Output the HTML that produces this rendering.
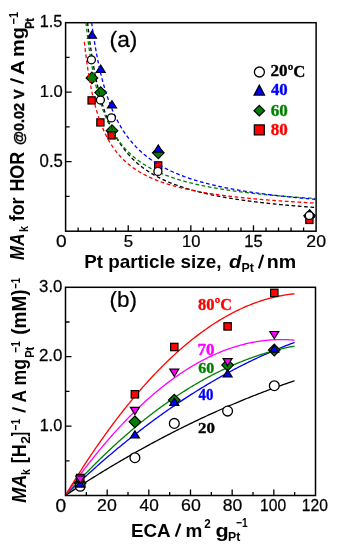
<!DOCTYPE html><html><head><meta charset="utf-8"><style>html,body{margin:0;padding:0;background:#fff;width:350px;height:547px;overflow:hidden}svg{display:block;will-change:transform}</style></head><body><svg width="350" height="547" viewBox="0 0 350 547">
<rect width="350" height="547" fill="#fff"/>
<g fill="none" stroke-width="1.3">
<polyline stroke="#000000" points="65.40,495.40 66.55,494.64 67.70,493.88 68.85,493.12 70.01,492.36 71.16,491.61 72.31,490.85 73.46,490.10 74.61,489.35 75.76,488.60 76.92,487.86 78.07,487.11 79.22,486.37 80.37,485.63 81.52,484.89 82.67,484.16 83.83,483.42 84.98,482.69 86.13,481.96 87.28,481.23 88.43,480.51 89.58,479.78 90.74,479.06 91.89,478.34 93.04,477.62 94.19,476.90 95.34,476.18 96.49,475.47 97.64,474.76 98.80,474.05 99.95,473.34 101.10,472.63 102.25,471.93 103.40,471.23 104.55,470.53 105.71,469.83 106.86,469.13 108.01,468.44 109.16,467.74 110.31,467.05 111.46,466.36 112.62,465.68 113.77,464.99 114.92,464.31 116.07,463.63 117.22,462.95 118.37,462.27 119.52,461.59 120.68,460.92 121.83,460.25 122.98,459.58 124.13,458.91 125.28,458.24 126.43,457.58 127.59,456.91 128.74,456.25 129.89,455.59 131.04,454.94 132.19,454.28 133.34,453.63 134.50,452.98 135.65,452.33 136.80,451.68 137.95,451.03 139.10,450.39 140.25,449.75 141.41,449.11 142.56,448.47 143.71,447.83 144.86,447.20 146.01,446.57 147.16,445.94 148.31,445.31 149.47,444.68 150.62,444.05 151.77,443.43 152.92,442.81 154.07,442.19 155.22,441.57 156.38,440.96 157.53,440.34 158.68,439.73 159.83,439.12 160.98,438.51 162.13,437.91 163.29,437.30 164.44,436.70 165.59,436.10 166.74,435.50 167.89,434.90 169.04,434.31 170.19,433.72 171.35,433.13 172.50,432.54 173.65,431.95 174.80,431.36 175.95,430.78 177.10,430.20 178.26,429.62 179.41,429.04 180.56,428.46 181.71,427.89 182.86,427.32 184.01,426.75 185.17,426.18 186.32,425.61 187.47,425.05 188.62,424.48 189.77,423.92 190.92,423.36 192.08,422.81 193.23,422.25 194.38,421.70 195.53,421.15 196.68,420.60 197.83,420.05 198.98,419.50 200.14,418.96 201.29,418.42 202.44,417.88 203.59,417.34 204.74,416.80 205.89,416.27 207.05,415.73 208.20,415.20 209.35,414.67 210.50,414.15 211.65,413.62 212.80,413.10 213.96,412.58 215.11,412.06 216.26,411.54 217.41,411.02 218.56,410.51 219.71,410.00 220.86,409.49 222.02,408.98 223.17,408.47 224.32,407.97 225.47,407.46 226.62,406.96 227.77,406.47 228.93,405.97 230.08,405.47 231.23,404.98 232.38,404.49 233.53,404.00 234.68,403.51 235.84,403.03 236.99,402.54 238.14,402.06 239.29,401.58 240.44,401.10 241.59,400.63 242.75,400.15 243.90,399.68 245.05,399.21 246.20,398.74 247.35,398.27 248.50,397.81 249.65,397.34 250.81,396.88 251.96,396.42 253.11,395.97 254.26,395.51 255.41,395.06 256.56,394.61 257.72,394.16 258.87,393.71 260.02,393.26 261.17,392.82 262.32,392.37 263.47,391.93 264.63,391.50 265.78,391.06 266.93,390.62 268.08,390.19 269.23,389.76 270.38,389.33 271.53,388.90 272.69,388.48 273.84,388.06 274.99,387.63 276.14,387.21 277.29,386.80 278.44,386.38 279.60,385.97 280.75,385.55 281.90,385.14 283.05,384.73 284.20,384.33 285.35,383.92 286.51,383.52 287.66,383.12 288.81,382.72 289.96,382.32 291.11,381.93 292.26,381.53 293.42,381.14 294.57,380.75"/>
<polyline stroke="#0000ff" points="65.40,495.40 66.55,494.29 67.70,493.18 68.85,492.08 70.01,490.98 71.16,489.88 72.31,488.79 73.46,487.70 74.61,486.61 75.76,485.53 76.92,484.45 78.07,483.37 79.22,482.30 80.37,481.23 81.52,480.16 82.67,479.10 83.83,478.04 84.98,476.98 86.13,475.93 87.28,474.88 88.43,473.84 89.58,472.80 90.74,471.76 91.89,470.72 93.04,469.69 94.19,468.66 95.34,467.64 96.49,466.62 97.64,465.60 98.80,464.59 99.95,463.57 101.10,462.57 102.25,461.56 103.40,460.56 104.55,459.57 105.71,458.57 106.86,457.58 108.01,456.60 109.16,455.61 110.31,454.63 111.46,453.66 112.62,452.69 113.77,451.72 114.92,450.75 116.07,449.79 117.22,448.83 118.37,447.87 119.52,446.92 120.68,445.97 121.83,445.03 122.98,444.09 124.13,443.15 125.28,442.21 126.43,441.28 127.59,440.35 128.74,439.43 129.89,438.51 131.04,437.59 132.19,436.68 133.34,435.77 134.50,434.86 135.65,433.96 136.80,433.06 137.95,432.16 139.10,431.27 140.25,430.38 141.41,429.49 142.56,428.61 143.71,427.73 144.86,426.85 146.01,425.98 147.16,425.11 148.31,424.25 149.47,423.38 150.62,422.52 151.77,421.67 152.92,420.82 154.07,419.97 155.22,419.12 156.38,418.28 157.53,417.45 158.68,416.61 159.83,415.78 160.98,414.95 162.13,414.13 163.29,413.31 164.44,412.49 165.59,411.68 166.74,410.87 167.89,410.06 169.04,409.26 170.19,408.46 171.35,407.66 172.50,406.87 173.65,406.08 174.80,405.29 175.95,404.51 177.10,403.73 178.26,402.95 179.41,402.18 180.56,401.41 181.71,400.65 182.86,399.89 184.01,399.13 185.17,398.37 186.32,397.62 187.47,396.87 188.62,396.13 189.77,395.39 190.92,394.65 192.08,393.92 193.23,393.18 194.38,392.46 195.53,391.73 196.68,391.01 197.83,390.30 198.98,389.58 200.14,388.87 201.29,388.17 202.44,387.46 203.59,386.76 204.74,386.07 205.89,385.37 207.05,384.68 208.20,384.00 209.35,383.32 210.50,382.64 211.65,381.96 212.80,381.29 213.96,380.62 215.11,379.96 216.26,379.29 217.41,378.64 218.56,377.98 219.71,377.33 220.86,376.68 222.02,376.04 223.17,375.40 224.32,374.76 225.47,374.13 226.62,373.50 227.77,372.87 228.93,372.24 230.08,371.62 231.23,371.01 232.38,370.39 233.53,369.78 234.68,369.18 235.84,368.58 236.99,367.98 238.14,367.38 239.29,366.79 240.44,366.20 241.59,365.61 242.75,365.03 243.90,364.45 245.05,363.88 246.20,363.30 247.35,362.74 248.50,362.17 249.65,361.61 250.81,361.05 251.96,360.50 253.11,359.95 254.26,359.40 255.41,358.85 256.56,358.31 257.72,357.78 258.87,357.24 260.02,356.71 261.17,356.19 262.32,355.66 263.47,355.14 264.63,354.63 265.78,354.11 266.93,353.60 268.08,353.10 269.23,352.59 270.38,352.10 271.53,351.60 272.69,351.11 273.84,350.62 274.99,350.13 276.14,349.65 277.29,349.17 278.44,348.70 279.60,348.23 280.75,347.76 281.90,347.29 283.05,346.83 284.20,346.37 285.35,345.92 286.51,345.47 287.66,345.02 288.81,344.58 289.96,344.14 291.11,343.70 292.26,343.27 293.42,342.84 294.57,342.41"/>
<polyline stroke="#008000" points="65.40,495.40 66.55,494.11 67.70,492.83 68.85,491.56 70.01,490.29 71.16,489.02 72.31,487.76 73.46,486.51 74.61,485.26 75.76,484.02 76.92,482.78 78.07,481.54 79.22,480.32 80.37,479.10 81.52,477.88 82.67,476.67 83.83,475.46 84.98,474.26 86.13,473.07 87.28,471.88 88.43,470.70 89.58,469.52 90.74,468.35 91.89,467.18 93.04,466.02 94.19,464.86 95.34,463.71 96.49,462.56 97.64,461.42 98.80,460.29 99.95,459.16 101.10,458.03 102.25,456.91 103.40,455.80 104.55,454.69 105.71,453.59 106.86,452.49 108.01,451.40 109.16,450.32 110.31,449.24 111.46,448.16 112.62,447.09 113.77,446.03 114.92,444.97 116.07,443.91 117.22,442.86 118.37,441.82 119.52,440.78 120.68,439.75 121.83,438.73 122.98,437.70 124.13,436.69 125.28,435.68 126.43,434.67 127.59,433.67 128.74,432.68 129.89,431.69 131.04,430.71 132.19,429.73 133.34,428.76 134.50,427.79 135.65,426.83 136.80,425.87 137.95,424.92 139.10,423.98 140.25,423.04 141.41,422.10 142.56,421.17 143.71,420.25 144.86,419.33 146.01,418.42 147.16,417.51 148.31,416.61 149.47,415.71 150.62,414.82 151.77,413.94 152.92,413.06 154.07,412.18 155.22,411.31 156.38,410.45 157.53,409.59 158.68,408.73 159.83,407.89 160.98,407.04 162.13,406.21 163.29,405.38 164.44,404.55 165.59,403.73 166.74,402.91 167.89,402.10 169.04,401.30 170.19,400.50 171.35,399.71 172.50,398.92 173.65,398.14 174.80,397.36 175.95,396.59 177.10,395.82 178.26,395.06 179.41,394.30 180.56,393.55 181.71,392.81 182.86,392.07 184.01,391.33 185.17,390.61 186.32,389.88 187.47,389.16 188.62,388.45 189.77,387.75 190.92,387.04 192.08,386.35 193.23,385.66 194.38,384.97 195.53,384.29 196.68,383.62 197.83,382.95 198.98,382.28 200.14,381.63 201.29,380.97 202.44,380.33 203.59,379.68 204.74,379.05 205.89,378.42 207.05,377.79 208.20,377.17 209.35,376.56 210.50,375.95 211.65,375.34 212.80,374.74 213.96,374.15 215.11,373.56 216.26,372.98 217.41,372.40 218.56,371.83 219.71,371.27 220.86,370.71 222.02,370.15 223.17,369.60 224.32,369.06 225.47,368.52 226.62,367.98 227.77,367.45 228.93,366.93 230.08,366.41 231.23,365.90 232.38,365.40 233.53,364.90 234.68,364.40 235.84,363.91 236.99,363.42 238.14,362.95 239.29,362.47 240.44,362.00 241.59,361.54 242.75,361.08 243.90,360.63 245.05,360.18 246.20,359.74 247.35,359.30 248.50,358.87 249.65,358.45 250.81,358.03 251.96,357.61 253.11,357.21 254.26,356.80 255.41,356.40 256.56,356.01 257.72,355.62 258.87,355.24 260.02,354.87 261.17,354.49 262.32,354.13 263.47,353.77 264.63,353.41 265.78,353.06 266.93,352.72 268.08,352.38 269.23,352.05 270.38,351.72 271.53,351.40 272.69,351.08 273.84,350.77 274.99,350.46 276.14,350.16 277.29,349.87 278.44,349.58 279.60,349.29 280.75,349.01 281.90,348.74 283.05,348.47 284.20,348.21 285.35,347.95 286.51,347.70 287.66,347.45 288.81,347.21 289.96,346.98 291.11,346.75 292.26,346.52 293.42,346.30 294.57,346.09"/>
<polyline stroke="#ff00ff" points="65.40,495.40 66.55,493.74 67.70,492.09 68.85,490.46 70.01,488.83 71.16,487.20 72.31,485.59 73.46,483.99 74.61,482.39 75.76,480.81 76.92,479.23 78.07,477.66 79.22,476.10 80.37,474.55 81.52,473.01 82.67,471.48 83.83,469.95 84.98,468.44 86.13,466.93 87.28,465.43 88.43,463.94 89.58,462.46 90.74,460.99 91.89,459.53 93.04,458.08 94.19,456.63 95.34,455.20 96.49,453.77 97.64,452.35 98.80,450.94 99.95,449.54 101.10,448.15 102.25,446.77 103.40,445.40 104.55,444.03 105.71,442.68 106.86,441.33 108.01,439.99 109.16,438.66 110.31,437.34 111.46,436.03 112.62,434.73 113.77,433.43 114.92,432.15 116.07,430.87 117.22,429.61 118.37,428.35 119.52,427.10 120.68,425.86 121.83,424.63 122.98,423.40 124.13,422.19 125.28,420.98 126.43,419.79 127.59,418.60 128.74,417.42 129.89,416.25 131.04,415.09 132.19,413.94 133.34,412.79 134.50,411.66 135.65,410.53 136.80,409.42 137.95,408.31 139.10,407.21 140.25,406.12 141.41,405.04 142.56,403.97 143.71,402.90 144.86,401.85 146.01,400.80 147.16,399.77 148.31,398.74 149.47,397.72 150.62,396.71 151.77,395.71 152.92,394.72 154.07,393.73 155.22,392.76 156.38,391.79 157.53,390.83 158.68,389.88 159.83,388.95 160.98,388.01 162.13,387.09 163.29,386.18 164.44,385.28 165.59,384.38 166.74,383.49 167.89,382.62 169.04,381.75 170.19,380.89 171.35,380.04 172.50,379.20 173.65,378.36 174.80,377.54 175.95,376.72 177.10,375.92 178.26,375.12 179.41,374.33 180.56,373.55 181.71,372.78 182.86,372.02 184.01,371.26 185.17,370.52 186.32,369.78 187.47,369.06 188.62,368.34 189.77,367.63 190.92,366.93 192.08,366.24 193.23,365.55 194.38,364.88 195.53,364.21 196.68,363.56 197.83,362.91 198.98,362.27 200.14,361.64 201.29,361.02 202.44,360.41 203.59,359.81 204.74,359.21 205.89,358.63 207.05,358.05 208.20,357.49 209.35,356.93 210.50,356.38 211.65,355.84 212.80,355.30 213.96,354.78 215.11,354.27 216.26,353.76 217.41,353.26 218.56,352.78 219.71,352.30 220.86,351.83 222.02,351.37 223.17,350.91 224.32,350.47 225.47,350.04 226.62,349.61 227.77,349.19 228.93,348.79 230.08,348.39 231.23,348.00 232.38,347.62 233.53,347.24 234.68,346.88 235.84,346.52 236.99,346.18 238.14,345.84 239.29,345.51 240.44,345.19 241.59,344.88 242.75,344.58 243.90,344.29 245.05,344.00 246.20,343.73 247.35,343.46 248.50,343.20 249.65,342.96 250.81,342.72 251.96,342.49 253.11,342.26 254.26,342.05 255.41,341.85 256.56,341.65 257.72,341.46 258.87,341.29 260.02,341.12 261.17,340.96 262.32,340.81 263.47,340.66 264.63,340.53 265.78,340.41 266.93,340.29 268.08,340.18 269.23,340.09 270.38,340.00 271.53,339.92 272.69,339.84 273.84,339.78 274.99,339.73 276.14,339.68 277.29,339.65 278.44,339.62 279.60,339.60 280.75,339.59 281.90,339.59 283.05,339.60 284.20,339.62 285.35,339.64 286.51,339.68 287.66,339.72 288.81,339.78 289.96,339.84 291.11,339.91 292.26,339.99 293.42,340.07 294.57,340.17"/>
<polyline stroke="#ff0000" points="65.40,495.40 66.55,493.49 67.70,491.59 68.85,489.70 70.01,487.81 71.16,485.94 72.31,484.07 73.46,482.22 74.61,480.37 75.76,478.53 76.92,476.70 78.07,474.88 79.22,473.07 80.37,471.27 81.52,469.48 82.67,467.70 83.83,465.92 84.98,464.16 86.13,462.40 87.28,460.65 88.43,458.91 89.58,457.18 90.74,455.46 91.89,453.75 93.04,452.05 94.19,450.36 95.34,448.67 96.49,447.00 97.64,445.33 98.80,443.68 99.95,442.03 101.10,440.39 102.25,438.76 103.40,437.14 104.55,435.53 105.71,433.93 106.86,432.34 108.01,430.75 109.16,429.18 110.31,427.61 111.46,426.05 112.62,424.51 113.77,422.97 114.92,421.44 116.07,419.92 117.22,418.40 118.37,416.90 119.52,415.41 120.68,413.92 121.83,412.45 122.98,410.98 124.13,409.52 125.28,408.08 126.43,406.64 127.59,405.21 128.74,403.79 129.89,402.37 131.04,400.97 132.19,399.58 133.34,398.19 134.50,396.82 135.65,395.45 136.80,394.09 137.95,392.74 139.10,391.41 140.25,390.07 141.41,388.75 142.56,387.44 143.71,386.14 144.86,384.84 146.01,383.56 147.16,382.28 148.31,381.02 149.47,379.76 150.62,378.51 151.77,377.27 152.92,376.04 154.07,374.82 155.22,373.60 156.38,372.40 157.53,371.21 158.68,370.02 159.83,368.85 160.98,367.68 162.13,366.52 163.29,365.37 164.44,364.23 165.59,363.10 166.74,361.98 167.89,360.87 169.04,359.76 170.19,358.67 171.35,357.58 172.50,356.50 173.65,355.44 174.80,354.38 175.95,353.33 177.10,352.29 178.26,351.26 179.41,350.24 180.56,349.22 181.71,348.22 182.86,347.22 184.01,346.24 185.17,345.26 186.32,344.29 187.47,343.33 188.62,342.38 189.77,341.44 190.92,340.51 192.08,339.59 193.23,338.68 194.38,337.77 195.53,336.88 196.68,335.99 197.83,335.11 198.98,334.24 200.14,333.39 201.29,332.54 202.44,331.69 203.59,330.86 204.74,330.04 205.89,329.23 207.05,328.42 208.20,327.63 209.35,326.84 210.50,326.06 211.65,325.29 212.80,324.53 213.96,323.78 215.11,323.04 216.26,322.31 217.41,321.59 218.56,320.87 219.71,320.17 220.86,319.47 222.02,318.78 223.17,318.11 224.32,317.44 225.47,316.78 226.62,316.13 227.77,315.49 228.93,314.85 230.08,314.23 231.23,313.62 232.38,313.01 233.53,312.41 234.68,311.83 235.84,311.25 236.99,310.68 238.14,310.12 239.29,309.57 240.44,309.03 241.59,308.49 242.75,307.97 243.90,307.46 245.05,306.95 246.20,306.45 247.35,305.97 248.50,305.49 249.65,305.02 250.81,304.56 251.96,304.11 253.11,303.67 254.26,303.23 255.41,302.81 256.56,302.39 257.72,301.99 258.87,301.59 260.02,301.20 261.17,300.82 262.32,300.45 263.47,300.09 264.63,299.74 265.78,299.40 266.93,299.07 268.08,298.74 269.23,298.43 270.38,298.12 271.53,297.82 272.69,297.54 273.84,297.26 274.99,296.99 276.14,296.73 277.29,296.47 278.44,296.23 279.60,296.00 280.75,295.77 281.90,295.56 283.05,295.35 284.20,295.15 285.35,294.96 286.51,294.78 287.66,294.61 288.81,294.45 289.96,294.30 291.11,294.16 292.26,294.02 293.42,293.90 294.57,293.78"/>
</g>
<g fill="none" stroke="#000" stroke-width="1.5">
<rect x="65.6" y="22.7" width="250.50" height="208.50"/>
<rect x="65.5" y="287.3" width="250.00" height="208.20"/>
<path d="M78.12 231.2 v-3.6 M90.65 231.2 v-3.6 M103.17 231.2 v-3.6 M115.70 231.2 v-3.6 M128.22 231.2 v-6 M140.75 231.2 v-3.6 M153.28 231.2 v-3.6 M165.80 231.2 v-3.6 M178.32 231.2 v-3.6 M190.85 231.2 v-6 M203.38 231.2 v-3.6 M215.90 231.2 v-3.6 M228.43 231.2 v-3.6 M240.95 231.2 v-3.6 M253.48 231.2 v-6 M266.00 231.2 v-3.6 M278.52 231.2 v-3.6 M291.05 231.2 v-3.6 M303.58 231.2 v-3.6 M65.6 196.45 h4 M65.6 161.70 h6 M65.6 126.95 h4 M65.6 92.20 h6 M65.6 57.45 h4 M86.33 495.5 v-3.6 M107.17 495.5 v-6 M128.00 495.5 v-3.6 M148.83 495.5 v-6 M169.67 495.5 v-3.6 M190.50 495.5 v-6 M211.33 495.5 v-3.6 M232.17 495.5 v-6 M253.00 495.5 v-3.6 M273.83 495.5 v-6 M294.67 495.5 v-3.6 M65.5 460.80 h4 M65.5 426.10 h6 M65.5 391.40 h4 M65.5 356.70 h6 M65.5 322.00 h4" stroke-width="1.3"/>
</g>
<path d="M91.9 72.10000000000001 L97.7 77.9 L91.9 83.7 L86.10000000000001 77.9Z" fill="#008000" stroke="#000" stroke-width="1.2"/>
<path d="M100.7 86.8 L106.5 92.6 L100.7 98.39999999999999 L94.9 92.6Z" fill="#008000" stroke="#000" stroke-width="1.2"/>
<path d="M112.0 124.89999999999999 L117.8 130.7 L112.0 136.5 L106.2 130.7Z" fill="#008000" stroke="#000" stroke-width="1.2"/>
<path d="M158.3 147.0 L164.10000000000002 152.8 L158.3 158.60000000000002 L152.5 152.8Z" fill="#008000" stroke="#000" stroke-width="1.2"/>
<path d="M309.6 210.0 L315.40000000000003 215.8 L309.6 221.60000000000002 L303.8 215.8Z" fill="#008000" stroke="#000" stroke-width="1.2"/>
<path d="M92 31.0 L96.5 38.2 L87.5 38.2Z" fill="#0000ff" stroke="#000" stroke-width="1.2"/>
<path d="M100.7 65.10000000000001 L105.2 72.3 L96.2 72.3Z" fill="#0000ff" stroke="#000" stroke-width="1.2"/>
<path d="M112 100.7 L116.5 107.89999999999999 L107.5 107.89999999999999Z" fill="#0000ff" stroke="#000" stroke-width="1.2"/>
<path d="M158.3 145.0 L162.8 152.2 L153.8 152.2Z" fill="#0000ff" stroke="#000" stroke-width="1.2"/>
<path d="M309.6 209.9 L314.1 217.1 L305.1 217.1Z" fill="#0000ff" stroke="#000" stroke-width="1.2"/>
<rect x="88.0" y="96.80000000000001" width="7.2" height="7.2" fill="#ff0000" stroke="#000" stroke-width="1.2"/>
<rect x="96.80000000000001" y="118.80000000000001" width="7.2" height="7.2" fill="#ff0000" stroke="#000" stroke-width="1.2"/>
<rect x="108.0" y="131.8" width="7.2" height="7.2" fill="#ff0000" stroke="#000" stroke-width="1.2"/>
<rect x="154.6" y="161.8" width="7.2" height="7.2" fill="#ff0000" stroke="#000" stroke-width="1.2"/>
<rect x="305.79999999999995" y="216.3" width="7.2" height="7.2" fill="#ff0000" stroke="#000" stroke-width="1.2"/>
<clipPath id="ca"><rect x="65.6" y="22.5" width="250.00000000000003" height="208.3"/></clipPath>
<g clip-path="url(#ca)" fill="none" stroke-width="1.3" stroke-dasharray="3.7 2.6">
<polyline stroke="#000000" points="87.57,22.50 88.14,27.64 88.71,32.53 89.28,37.18 89.86,41.61 90.43,45.84 91.00,49.88 91.57,53.74 92.14,57.44 92.71,60.97 93.29,64.37 93.86,67.62 94.43,70.75 95.00,73.75 95.57,76.64 96.14,79.42 96.71,82.10 97.29,84.69 97.86,87.18 98.43,89.58 99.00,91.91 99.57,94.15 100.14,96.32 100.71,98.42 101.29,100.45 101.86,102.42 102.43,104.33 103.00,106.18 103.57,107.97 104.14,109.71 104.72,111.40 105.29,113.04 105.86,114.63 106.43,116.18 107.00,117.69 107.57,119.15 108.14,120.58 108.72,121.97 109.29,123.32 109.86,124.64 110.43,125.92 111.00,127.17 111.57,128.39 112.14,129.58 112.72,130.74 113.29,131.88 113.86,132.98 114.43,134.06 115.00,135.12 115.57,136.15 116.15,137.16 116.72,138.14 117.29,139.11 117.86,140.05 118.43,140.97 119.00,141.88 119.57,142.76 120.15,143.62 120.72,144.47 121.29,145.30 121.86,146.11 122.43,146.91 123.00,147.69 123.57,148.46 124.15,149.21 124.72,149.94 125.29,150.66 125.86,151.37 126.43,152.07 127.00,152.75 127.58,153.42 128.15,154.07 128.72,154.72 129.29,155.35 129.86,155.97 130.43,156.59 131.00,157.19 131.58,157.78 132.15,158.36 132.72,158.93 133.29,159.49 133.86,160.04 134.43,160.58 135.00,161.11 135.58,161.64 136.15,162.15 136.72,162.66 137.29,163.16 137.86,163.65 138.43,164.14 139.01,164.61 139.58,165.08 140.15,165.54 140.72,166.00 141.29,166.45 141.86,166.89 142.43,167.32 143.01,167.75 143.58,168.17 144.15,168.59 144.72,169.00 145.29,169.40 145.86,169.80 146.44,170.19 147.01,170.58 147.58,170.96 148.15,171.34 148.72,171.71 149.29,172.07 149.86,172.43 150.44,172.79 151.01,173.14 151.58,173.49 152.15,173.83 152.72,174.17 153.29,174.50 153.86,174.83 154.44,175.16 155.01,175.48 155.58,175.79 156.15,176.11 156.72,176.41 157.29,176.72 157.87,177.02 158.44,177.32 159.01,177.61 159.58,177.90 160.15,178.19 160.72,178.47 161.29,178.75 161.87,179.03 162.44,179.30 163.01,179.57 163.58,179.84 164.15,180.10 164.72,180.36 165.29,180.62 165.87,180.87 166.44,181.13 167.01,181.38 167.58,181.62 168.15,181.86 168.72,182.11 169.30,182.34 169.87,182.58 170.44,182.81 171.01,183.04 171.58,183.27 172.15,183.50 172.72,183.72 173.30,183.94 173.87,184.16 174.44,184.37 175.01,184.59 175.58,184.80 176.15,185.01 176.72,185.22 177.30,185.42 177.87,185.62 178.44,185.83 179.01,186.02 179.58,186.22 180.15,186.42 180.73,186.61 181.30,186.80 181.87,186.99 182.44,187.18 183.01,187.36 183.58,187.55 184.15,187.73 184.73,187.91 185.30,188.09 185.87,188.27 186.44,188.44 187.01,188.61 187.58,188.79 188.15,188.96 188.73,189.13 189.30,189.29 189.87,189.46 190.44,189.62 191.01,189.78 191.58,189.95 192.16,190.11 192.73,190.26 193.30,190.42 193.87,190.58 194.44,190.73 195.01,190.88 195.58,191.03 196.16,191.18 196.73,191.33 197.30,191.48 197.87,191.63 198.44,191.77 199.01,191.92 199.58,192.06 200.16,192.20 200.73,192.34 201.30,192.48 201.87,192.62 202.44,192.75 203.01,192.89 203.59,193.02 204.16,193.16 204.73,193.29 205.30,193.42 205.87,193.55 206.44,193.68 207.01,193.81 207.59,193.93 208.16,194.06 208.73,194.18 209.30,194.31 209.87,194.43 210.44,194.55 211.01,194.67 211.59,194.79 212.16,194.91 212.73,195.03 213.30,195.15 213.87,195.26 214.44,195.38 215.02,195.49 215.59,195.61 216.16,195.72 216.73,195.83 217.30,195.94 217.87,196.05 218.44,196.16 219.02,196.27 219.59,196.38 220.16,196.49 220.73,196.59 221.30,196.70 221.87,196.80 222.44,196.91 223.02,197.01 223.59,197.11 224.16,197.21 224.73,197.31 225.30,197.41 225.87,197.51 226.45,197.61 227.02,197.71 227.59,197.81 228.16,197.90 228.73,198.00 229.30,198.10 229.87,198.19 230.45,198.28 231.02,198.38 231.59,198.47 232.16,198.56 232.73,198.65 233.30,198.74 233.88,198.83 234.45,198.92 235.02,199.01 235.59,199.10 236.16,199.19 236.73,199.28 237.30,199.36 237.88,199.45 238.45,199.54 239.02,199.62 239.59,199.70 240.16,199.79 240.73,199.87 241.30,199.95 241.88,200.04 242.45,200.12 243.02,200.20 243.59,200.28 244.16,200.36 244.73,200.44 245.31,200.52 245.88,200.60 246.45,200.68 247.02,200.75 247.59,200.83 248.16,200.91 248.73,200.98 249.31,201.06 249.88,201.13 250.45,201.21 251.02,201.28 251.59,201.36 252.16,201.43 252.73,201.50 253.31,201.58 253.88,201.65 254.45,201.72 255.02,201.79 255.59,201.86 256.16,201.93 256.74,202.00 257.31,202.07 257.88,202.14 258.45,202.21 259.02,202.28 259.59,202.35 260.16,202.41 260.74,202.48 261.31,202.55 261.88,202.61 262.45,202.68 263.02,202.74 263.59,202.81 264.16,202.87 264.74,202.94 265.31,203.00 265.88,203.07 266.45,203.13 267.02,203.19 267.59,203.26 268.17,203.32 268.74,203.38 269.31,203.44 269.88,203.50 270.45,203.56 271.02,203.62 271.59,203.68 272.17,203.74 272.74,203.80 273.31,203.86 273.88,203.92 274.45,203.98 275.02,204.04 275.59,204.10 276.17,204.15 276.74,204.21 277.31,204.27 277.88,204.32 278.45,204.38 279.02,204.44 279.60,204.49 280.17,204.55 280.74,204.60 281.31,204.66 281.88,204.71 282.45,204.77 283.02,204.82 283.60,204.87 284.17,204.93 284.74,204.98 285.31,205.03 285.88,205.09 286.45,205.14 287.02,205.19 287.60,205.24 288.17,205.29 288.74,205.35 289.31,205.40 289.88,205.45 290.45,205.50 291.03,205.55 291.60,205.60 292.17,205.65 292.74,205.70 293.31,205.75 293.88,205.80 294.45,205.84 295.03,205.89 295.60,205.94 296.17,205.99 296.74,206.04 297.31,206.08 297.88,206.13 298.45,206.18 299.03,206.23 299.60,206.27 300.17,206.32 300.74,206.36 301.31,206.41 301.88,206.46 302.46,206.50 303.03,206.55 303.60,206.59 304.17,206.64 304.74,206.68 305.31,206.73 305.88,206.77 306.46,206.81 307.03,206.86 307.60,206.90 308.17,206.95 308.74,206.99 309.31,207.03 309.88,207.07 310.46,207.12 311.03,207.16 311.60,207.20 312.17,207.24 312.74,207.29 313.31,207.33 313.89,207.37 314.46,207.41 315.03,207.45 315.60,207.49"/>
<polyline stroke="#ff0000" points="84.35,41.90 84.93,47.13 85.51,52.05 86.09,56.69 86.67,61.08 87.25,65.23 87.83,69.16 88.41,72.90 88.99,76.45 89.57,79.83 90.15,83.04 90.73,86.11 91.30,89.05 91.88,91.85 92.46,94.53 93.04,97.10 93.62,99.56 94.20,101.92 94.78,104.19 95.36,106.37 95.94,108.47 96.52,110.48 97.10,112.43 97.68,114.30 98.26,116.11 98.84,117.85 99.42,119.54 100.00,121.17 100.58,122.74 101.16,124.26 101.74,125.73 102.32,127.16 102.90,128.54 103.48,129.88 104.06,131.18 104.64,132.45 105.21,133.67 105.79,134.86 106.37,136.01 106.95,137.14 107.53,138.23 108.11,139.29 108.69,140.33 109.27,141.33 109.85,142.31 110.43,143.27 111.01,144.20 111.59,145.10 112.17,145.99 112.75,146.85 113.33,147.69 113.91,148.51 114.49,149.31 115.07,150.10 115.65,150.86 116.23,151.61 116.81,152.34 117.39,153.05 117.97,153.75 118.54,154.43 119.12,155.10 119.70,155.75 120.28,156.39 120.86,157.02 121.44,157.63 122.02,158.24 122.60,158.82 123.18,159.40 123.76,159.97 124.34,160.52 124.92,161.06 125.50,161.60 126.08,162.12 126.66,162.63 127.24,163.14 127.82,163.63 128.40,164.11 128.98,164.59 129.56,165.06 130.14,165.52 130.72,165.97 131.30,166.41 131.88,166.84 132.45,167.27 133.03,167.69 133.61,168.10 134.19,168.51 134.77,168.91 135.35,169.30 135.93,169.69 136.51,170.07 137.09,170.44 137.67,170.81 138.25,171.17 138.83,171.52 139.41,171.88 139.99,172.22 140.57,172.56 141.15,172.89 141.73,173.22 142.31,173.55 142.89,173.87 143.47,174.18 144.05,174.49 144.63,174.80 145.21,175.10 145.78,175.39 146.36,175.69 146.94,175.97 147.52,176.26 148.10,176.54 148.68,176.82 149.26,177.09 149.84,177.36 150.42,177.62 151.00,177.88 151.58,178.14 152.16,178.40 152.74,178.65 153.32,178.89 153.90,179.14 154.48,179.38 155.06,179.62 155.64,179.85 156.22,180.08 156.80,180.31 157.38,180.54 157.96,180.76 158.54,180.98 159.12,181.20 159.69,181.42 160.27,181.63 160.85,181.84 161.43,182.05 162.01,182.25 162.59,182.45 163.17,182.65 163.75,182.85 164.33,183.05 164.91,183.24 165.49,183.43 166.07,183.62 166.65,183.81 167.23,183.99 167.81,184.17 168.39,184.35 168.97,184.53 169.55,184.71 170.13,184.88 170.71,185.05 171.29,185.22 171.87,185.39 172.45,185.56 173.02,185.73 173.60,185.89 174.18,186.05 174.76,186.21 175.34,186.37 175.92,186.52 176.50,186.68 177.08,186.83 177.66,186.98 178.24,187.13 178.82,187.28 179.40,187.43 179.98,187.57 180.56,187.72 181.14,187.86 181.72,188.00 182.30,188.14 182.88,188.28 183.46,188.42 184.04,188.55 184.62,188.69 185.20,188.82 185.78,188.95 186.36,189.08 186.93,189.21 187.51,189.34 188.09,189.47 188.67,189.59 189.25,189.72 189.83,189.84 190.41,189.96 190.99,190.08 191.57,190.20 192.15,190.32 192.73,190.44 193.31,190.56 193.89,190.67 194.47,190.79 195.05,190.90 195.63,191.01 196.21,191.12 196.79,191.23 197.37,191.34 197.95,191.45 198.53,191.56 199.11,191.67 199.69,191.77 200.26,191.88 200.84,191.98 201.42,192.08 202.00,192.19 202.58,192.29 203.16,192.39 203.74,192.49 204.32,192.59 204.90,192.68 205.48,192.78 206.06,192.88 206.64,192.97 207.22,193.07 207.80,193.16 208.38,193.26 208.96,193.35 209.54,193.44 210.12,193.53 210.70,193.62 211.28,193.71 211.86,193.80 212.44,193.89 213.02,193.97 213.59,194.06 214.17,194.15 214.75,194.23 215.33,194.32 215.91,194.40 216.49,194.49 217.07,194.57 217.65,194.65 218.23,194.73 218.81,194.81 219.39,194.89 219.97,194.97 220.55,195.05 221.13,195.13 221.71,195.21 222.29,195.29 222.87,195.36 223.45,195.44 224.03,195.52 224.61,195.59 225.19,195.67 225.77,195.74 226.35,195.81 226.93,195.89 227.50,195.96 228.08,196.03 228.66,196.10 229.24,196.17 229.82,196.24 230.40,196.31 230.98,196.38 231.56,196.45 232.14,196.52 232.72,196.59 233.30,196.66 233.88,196.72 234.46,196.79 235.04,196.86 235.62,196.92 236.20,196.99 236.78,197.05 237.36,197.12 237.94,197.18 238.52,197.24 239.10,197.31 239.68,197.37 240.26,197.43 240.83,197.49 241.41,197.55 241.99,197.62 242.57,197.68 243.15,197.74 243.73,197.80 244.31,197.86 244.89,197.91 245.47,197.97 246.05,198.03 246.63,198.09 247.21,198.15 247.79,198.20 248.37,198.26 248.95,198.32 249.53,198.37 250.11,198.43 250.69,198.49 251.27,198.54 251.85,198.60 252.43,198.65 253.01,198.70 253.59,198.76 254.17,198.81 254.74,198.86 255.32,198.92 255.90,198.97 256.48,199.02 257.06,199.07 257.64,199.12 258.22,199.18 258.80,199.23 259.38,199.28 259.96,199.33 260.54,199.38 261.12,199.43 261.70,199.48 262.28,199.53 262.86,199.57 263.44,199.62 264.02,199.67 264.60,199.72 265.18,199.77 265.76,199.81 266.34,199.86 266.92,199.91 267.50,199.95 268.07,200.00 268.65,200.05 269.23,200.09 269.81,200.14 270.39,200.18 270.97,200.23 271.55,200.27 272.13,200.32 272.71,200.36 273.29,200.41 273.87,200.45 274.45,200.49 275.03,200.54 275.61,200.58 276.19,200.62 276.77,200.67 277.35,200.71 277.93,200.75 278.51,200.79 279.09,200.83 279.67,200.87 280.25,200.92 280.83,200.96 281.41,201.00 281.98,201.04 282.56,201.08 283.14,201.12 283.72,201.16 284.30,201.20 284.88,201.24 285.46,201.28 286.04,201.32 286.62,201.36 287.20,201.39 287.78,201.43 288.36,201.47 288.94,201.51 289.52,201.55 290.10,201.58 290.68,201.62 291.26,201.66 291.84,201.70 292.42,201.73 293.00,201.77 293.58,201.81 294.16,201.84 294.74,201.88 295.31,201.91 295.89,201.95 296.47,201.99 297.05,202.02 297.63,202.06 298.21,202.09 298.79,202.13 299.37,202.16 299.95,202.20 300.53,202.23 301.11,202.26 301.69,202.30 302.27,202.33 302.85,202.37 303.43,202.40 304.01,202.43 304.59,202.47 305.17,202.50 305.75,202.53 306.33,202.56 306.91,202.60 307.49,202.63 308.07,202.66 308.65,202.69 309.22,202.73 309.80,202.76 310.38,202.79 310.96,202.82 311.54,202.85 312.12,202.88 312.70,202.92 313.28,202.95 313.86,202.98 314.44,203.01 315.02,203.04 315.60,203.07"/>
<polyline stroke="#008000" points="85.95,22.50 86.52,27.77 87.10,32.76 87.67,37.49 88.25,41.98 88.82,46.25 89.40,50.31 89.97,54.17 90.55,57.86 91.13,61.39 91.70,64.76 92.28,67.98 92.85,71.06 93.43,74.02 94.00,76.86 94.58,79.59 95.15,82.21 95.73,84.73 96.31,87.15 96.88,89.49 97.46,91.74 98.03,93.91 98.61,96.01 99.18,98.03 99.76,99.99 100.34,101.88 100.91,103.71 101.49,105.48 102.06,107.20 102.64,108.86 103.21,110.47 103.79,112.03 104.36,113.55 104.94,115.02 105.52,116.45 106.09,117.84 106.67,119.19 107.24,120.50 107.82,121.77 108.39,123.02 108.97,124.23 109.54,125.40 110.12,126.55 110.70,127.67 111.27,128.76 111.85,129.82 112.42,130.86 113.00,131.87 113.57,132.85 114.15,133.82 114.72,134.76 115.30,135.68 115.88,136.58 116.45,137.45 117.03,138.31 117.60,139.15 118.18,139.97 118.75,140.77 119.33,141.56 119.90,142.33 120.48,143.08 121.06,143.82 121.63,144.54 122.21,145.25 122.78,145.94 123.36,146.62 123.93,147.29 124.51,147.94 125.08,148.58 125.66,149.21 126.24,149.83 126.81,150.43 127.39,151.02 127.96,151.61 128.54,152.18 129.11,152.74 129.69,153.29 130.26,153.83 130.84,154.36 131.42,154.89 131.99,155.40 132.57,155.90 133.14,156.40 133.72,156.89 134.29,157.37 134.87,157.84 135.45,158.30 136.02,158.76 136.60,159.21 137.17,159.65 137.75,160.08 138.32,160.51 138.90,160.93 139.47,161.35 140.05,161.76 140.63,162.16 141.20,162.55 141.78,162.94 142.35,163.33 142.93,163.70 143.50,164.08 144.08,164.44 144.65,164.81 145.23,165.16 145.81,165.51 146.38,165.86 146.96,166.20 147.53,166.54 148.11,166.87 148.68,167.20 149.26,167.52 149.83,167.84 150.41,168.15 150.99,168.46 151.56,168.77 152.14,169.07 152.71,169.37 153.29,169.66 153.86,169.95 154.44,170.24 155.01,170.52 155.59,170.80 156.17,171.07 156.74,171.35 157.32,171.61 157.89,171.88 158.47,172.14 159.04,172.40 159.62,172.66 160.19,172.91 160.77,173.16 161.35,173.40 161.92,173.65 162.50,173.89 163.07,174.12 163.65,174.36 164.22,174.59 164.80,174.82 165.37,175.05 165.95,175.27 166.53,175.49 167.10,175.71 167.68,175.93 168.25,176.14 168.83,176.35 169.40,176.56 169.98,176.77 170.56,176.98 171.13,177.18 171.71,177.38 172.28,177.58 172.86,177.77 173.43,177.97 174.01,178.16 174.58,178.35 175.16,178.54 175.74,178.72 176.31,178.91 176.89,179.09 177.46,179.27 178.04,179.45 178.61,179.62 179.19,179.80 179.76,179.97 180.34,180.14 180.92,180.31 181.49,180.48 182.07,180.65 182.64,180.81 183.22,180.98 183.79,181.14 184.37,181.30 184.94,181.45 185.52,181.61 186.10,181.77 186.67,181.92 187.25,182.07 187.82,182.22 188.40,182.37 188.97,182.52 189.55,182.67 190.12,182.81 190.70,182.96 191.28,183.10 191.85,183.24 192.43,183.38 193.00,183.52 193.58,183.66 194.15,183.79 194.73,183.93 195.30,184.06 195.88,184.20 196.46,184.33 197.03,184.46 197.61,184.59 198.18,184.72 198.76,184.84 199.33,184.97 199.91,185.09 200.49,185.22 201.06,185.34 201.64,185.46 202.21,185.58 202.79,185.70 203.36,185.82 203.94,185.94 204.51,186.06 205.09,186.17 205.67,186.29 206.24,186.40 206.82,186.51 207.39,186.63 207.97,186.74 208.54,186.85 209.12,186.96 209.69,187.07 210.27,187.17 210.85,187.28 211.42,187.39 212.00,187.49 212.57,187.60 213.15,187.70 213.72,187.80 214.30,187.90 214.87,188.00 215.45,188.10 216.03,188.20 216.60,188.30 217.18,188.40 217.75,188.50 218.33,188.60 218.90,188.69 219.48,188.79 220.05,188.88 220.63,188.97 221.21,189.07 221.78,189.16 222.36,189.25 222.93,189.34 223.51,189.43 224.08,189.52 224.66,189.61 225.23,189.70 225.81,189.79 226.39,189.87 226.96,189.96 227.54,190.05 228.11,190.13 228.69,190.22 229.26,190.30 229.84,190.38 230.41,190.47 230.99,190.55 231.57,190.63 232.14,190.71 232.72,190.79 233.29,190.87 233.87,190.95 234.44,191.03 235.02,191.11 235.60,191.19 236.17,191.27 236.75,191.34 237.32,191.42 237.90,191.49 238.47,191.57 239.05,191.64 239.62,191.72 240.20,191.79 240.78,191.87 241.35,191.94 241.93,192.01 242.50,192.08 243.08,192.15 243.65,192.23 244.23,192.30 244.80,192.37 245.38,192.44 245.96,192.51 246.53,192.57 247.11,192.64 247.68,192.71 248.26,192.78 248.83,192.84 249.41,192.91 249.98,192.98 250.56,193.04 251.14,193.11 251.71,193.17 252.29,193.24 252.86,193.30 253.44,193.37 254.01,193.43 254.59,193.49 255.16,193.56 255.74,193.62 256.32,193.68 256.89,193.74 257.47,193.80 258.04,193.86 258.62,193.92 259.19,193.98 259.77,194.04 260.34,194.10 260.92,194.16 261.50,194.22 262.07,194.28 262.65,194.34 263.22,194.39 263.80,194.45 264.37,194.51 264.95,194.57 265.52,194.62 266.10,194.68 266.68,194.73 267.25,194.79 267.83,194.84 268.40,194.90 268.98,194.95 269.55,195.01 270.13,195.06 270.71,195.11 271.28,195.17 271.86,195.22 272.43,195.27 273.01,195.32 273.58,195.38 274.16,195.43 274.73,195.48 275.31,195.53 275.89,195.58 276.46,195.63 277.04,195.68 277.61,195.73 278.19,195.78 278.76,195.83 279.34,195.88 279.91,195.93 280.49,195.98 281.07,196.03 281.64,196.08 282.22,196.12 282.79,196.17 283.37,196.22 283.94,196.27 284.52,196.31 285.09,196.36 285.67,196.41 286.25,196.45 286.82,196.50 287.40,196.54 287.97,196.59 288.55,196.64 289.12,196.68 289.70,196.72 290.27,196.77 290.85,196.81 291.43,196.86 292.00,196.90 292.58,196.95 293.15,196.99 293.73,197.03 294.30,197.08 294.88,197.12 295.45,197.16 296.03,197.20 296.61,197.25 297.18,197.29 297.76,197.33 298.33,197.37 298.91,197.41 299.48,197.45 300.06,197.49 300.64,197.53 301.21,197.57 301.79,197.62 302.36,197.66 302.94,197.70 303.51,197.74 304.09,197.77 304.66,197.81 305.24,197.85 305.82,197.89 306.39,197.93 306.97,197.97 307.54,198.01 308.12,198.05 308.69,198.08 309.27,198.12 309.84,198.16 310.42,198.20 311.00,198.23 311.57,198.27 312.15,198.31 312.72,198.35 313.30,198.38 313.87,198.42 314.45,198.46 315.02,198.49 315.60,198.53"/>
<polyline stroke="#0000ff" points="91.65,22.50 92.21,26.66 92.77,30.65 93.33,34.48 93.89,38.16 94.45,41.70 95.02,45.10 95.58,48.37 96.14,51.52 96.70,54.56 97.26,57.49 97.82,60.32 98.38,63.05 98.94,65.69 99.51,68.25 100.07,70.71 100.63,73.10 101.19,75.42 101.75,77.66 102.31,79.84 102.87,81.95 103.44,83.99 104.00,85.98 104.56,87.91 105.12,89.78 105.68,91.60 106.24,93.38 106.80,95.10 107.36,96.78 107.93,98.41 108.49,100.00 109.05,101.55 109.61,103.06 110.17,104.53 110.73,105.96 111.29,107.36 111.85,108.73 112.42,110.06 112.98,111.36 113.54,112.63 114.10,113.87 114.66,115.09 115.22,116.27 115.78,117.43 116.34,118.56 116.91,119.67 117.47,120.76 118.03,121.82 118.59,122.86 119.15,123.87 119.71,124.87 120.27,125.84 120.83,126.80 121.40,127.74 121.96,128.65 122.52,129.55 123.08,130.44 123.64,131.30 124.20,132.15 124.76,132.98 125.33,133.80 125.89,134.60 126.45,135.39 127.01,136.16 127.57,136.92 128.13,137.66 128.69,138.39 129.25,139.11 129.82,139.82 130.38,140.51 130.94,141.19 131.50,141.86 132.06,142.52 132.62,143.17 133.18,143.81 133.74,144.43 134.31,145.05 134.87,145.66 135.43,146.25 135.99,146.84 136.55,147.42 137.11,147.99 137.67,148.55 138.23,149.10 138.80,149.64 139.36,150.18 139.92,150.70 140.48,151.22 141.04,151.73 141.60,152.24 142.16,152.73 142.72,153.22 143.29,153.70 143.85,154.18 144.41,154.64 144.97,155.11 145.53,155.56 146.09,156.01 146.65,156.45 147.22,156.89 147.78,157.32 148.34,157.74 148.90,158.16 149.46,158.57 150.02,158.98 150.58,159.38 151.14,159.78 151.71,160.17 152.27,160.56 152.83,160.94 153.39,161.32 153.95,161.69 154.51,162.06 155.07,162.42 155.63,162.78 156.20,163.13 156.76,163.48 157.32,163.83 157.88,164.17 158.44,164.50 159.00,164.84 159.56,165.17 160.12,165.49 160.69,165.81 161.25,166.13 161.81,166.44 162.37,166.75 162.93,167.06 163.49,167.36 164.05,167.66 164.61,167.96 165.18,168.25 165.74,168.54 166.30,168.83 166.86,169.11 167.42,169.39 167.98,169.67 168.54,169.94 169.11,170.21 169.67,170.48 170.23,170.74 170.79,171.01 171.35,171.27 171.91,171.52 172.47,171.78 173.03,172.03 173.60,172.28 174.16,172.52 174.72,172.77 175.28,173.01 175.84,173.25 176.40,173.48 176.96,173.72 177.52,173.95 178.09,174.18 178.65,174.40 179.21,174.63 179.77,174.85 180.33,175.07 180.89,175.29 181.45,175.51 182.01,175.72 182.58,175.93 183.14,176.14 183.70,176.35 184.26,176.56 184.82,176.76 185.38,176.96 185.94,177.16 186.51,177.36 187.07,177.56 187.63,177.75 188.19,177.94 188.75,178.13 189.31,178.32 189.87,178.51 190.43,178.70 191.00,178.88 191.56,179.07 192.12,179.25 192.68,179.43 193.24,179.60 193.80,179.78 194.36,179.95 194.92,180.13 195.49,180.30 196.05,180.47 196.61,180.64 197.17,180.81 197.73,180.97 198.29,181.14 198.85,181.30 199.41,181.46 199.98,181.62 200.54,181.78 201.10,181.94 201.66,182.10 202.22,182.25 202.78,182.41 203.34,182.56 203.90,182.71 204.47,182.86 205.03,183.01 205.59,183.16 206.15,183.30 206.71,183.45 207.27,183.59 207.83,183.74 208.40,183.88 208.96,184.02 209.52,184.16 210.08,184.30 210.64,184.44 211.20,184.57 211.76,184.71 212.32,184.84 212.89,184.98 213.45,185.11 214.01,185.24 214.57,185.37 215.13,185.50 215.69,185.63 216.25,185.76 216.81,185.88 217.38,186.01 217.94,186.13 218.50,186.26 219.06,186.38 219.62,186.50 220.18,186.62 220.74,186.74 221.30,186.86 221.87,186.98 222.43,187.10 222.99,187.22 223.55,187.33 224.11,187.45 224.67,187.56 225.23,187.68 225.79,187.79 226.36,187.90 226.92,188.01 227.48,188.12 228.04,188.23 228.60,188.34 229.16,188.45 229.72,188.56 230.29,188.66 230.85,188.77 231.41,188.88 231.97,188.98 232.53,189.08 233.09,189.19 233.65,189.29 234.21,189.39 234.78,189.49 235.34,189.59 235.90,189.69 236.46,189.79 237.02,189.89 237.58,189.99 238.14,190.09 238.70,190.18 239.27,190.28 239.83,190.37 240.39,190.47 240.95,190.56 241.51,190.66 242.07,190.75 242.63,190.84 243.19,190.93 243.76,191.03 244.32,191.12 244.88,191.21 245.44,191.30 246.00,191.38 246.56,191.47 247.12,191.56 247.68,191.65 248.25,191.73 248.81,191.82 249.37,191.91 249.93,191.99 250.49,192.08 251.05,192.16 251.61,192.24 252.18,192.33 252.74,192.41 253.30,192.49 253.86,192.57 254.42,192.66 254.98,192.74 255.54,192.82 256.10,192.90 256.67,192.98 257.23,193.05 257.79,193.13 258.35,193.21 258.91,193.29 259.47,193.36 260.03,193.44 260.59,193.52 261.16,193.59 261.72,193.67 262.28,193.74 262.84,193.82 263.40,193.89 263.96,193.97 264.52,194.04 265.08,194.11 265.65,194.18 266.21,194.26 266.77,194.33 267.33,194.40 267.89,194.47 268.45,194.54 269.01,194.61 269.57,194.68 270.14,194.75 270.70,194.82 271.26,194.88 271.82,194.95 272.38,195.02 272.94,195.09 273.50,195.15 274.07,195.22 274.63,195.29 275.19,195.35 275.75,195.42 276.31,195.48 276.87,195.55 277.43,195.61 277.99,195.68 278.56,195.74 279.12,195.80 279.68,195.87 280.24,195.93 280.80,195.99 281.36,196.06 281.92,196.12 282.48,196.18 283.05,196.24 283.61,196.30 284.17,196.36 284.73,196.42 285.29,196.48 285.85,196.54 286.41,196.60 286.97,196.66 287.54,196.72 288.10,196.78 288.66,196.83 289.22,196.89 289.78,196.95 290.34,197.01 290.90,197.06 291.46,197.12 292.03,197.18 292.59,197.23 293.15,197.29 293.71,197.35 294.27,197.40 294.83,197.46 295.39,197.51 295.96,197.57 296.52,197.62 297.08,197.67 297.64,197.73 298.20,197.78 298.76,197.83 299.32,197.89 299.88,197.94 300.45,197.99 301.01,198.04 301.57,198.10 302.13,198.15 302.69,198.20 303.25,198.25 303.81,198.30 304.37,198.35 304.94,198.40 305.50,198.45 306.06,198.50 306.62,198.55 307.18,198.60 307.74,198.65 308.30,198.70 308.86,198.75 309.43,198.80 309.99,198.85 310.55,198.89 311.11,198.94 311.67,198.99 312.23,199.04 312.79,199.09 313.35,199.13 313.92,199.18 314.48,199.23 315.04,199.27 315.60,199.32"/>
</g>
<circle cx="91.4" cy="59.8" r="4.0" fill="#fff" stroke="#000" stroke-width="1.3"/>
<circle cx="100.4" cy="100" r="4.0" fill="#fff" stroke="#000" stroke-width="1.3"/>
<circle cx="111.4" cy="117.9" r="4.0" fill="#fff" stroke="#000" stroke-width="1.3"/>
<circle cx="157.9" cy="171.4" r="4.0" fill="#fff" stroke="#000" stroke-width="1.3"/>
<circle cx="309.3" cy="215.5" r="4.0" fill="#fff" stroke="#000" stroke-width="1.3"/>
<circle cx="259.4" cy="72" r="5.0" fill="#fff" stroke="#000" stroke-width="1.3"/>
<path d="M259.3 85.1 L264.55 95.1 L254.05 95.1Z" fill="#0000ff" stroke="#000" stroke-width="1.2"/>
<path d="M259.3 105.4 L264.6 110.7 L259.3 116.0 L254.0 110.7Z" fill="#008000" stroke="#000" stroke-width="1.2"/>
<rect x="254.3" y="124.9" width="10" height="10" fill="#ff0000" stroke="#000" stroke-width="1.2"/>
<path d="M80.2 477.2 L86.0 483 L80.2 488.8 L74.4 483Z" fill="#008000" stroke="#000" stroke-width="1.2"/>
<path d="M134.9 416.0 L140.70000000000002 421.8 L134.9 427.6 L129.1 421.8Z" fill="#008000" stroke="#000" stroke-width="1.2"/>
<path d="M174.3 394.3 L180.10000000000002 400.1 L174.3 405.90000000000003 L168.5 400.1Z" fill="#008000" stroke="#000" stroke-width="1.2"/>
<path d="M227.6 359.3 L233.4 365.1 L227.6 370.90000000000003 L221.79999999999998 365.1Z" fill="#008000" stroke="#000" stroke-width="1.2"/>
<path d="M274.3 344.2 L280.1 350 L274.3 355.8 L268.5 350Z" fill="#008000" stroke="#000" stroke-width="1.2"/>
<circle cx="80.2" cy="486.3" r="4.9" fill="#fff" stroke="#000" stroke-width="1.3"/>
<circle cx="134.9" cy="457.7" r="4.9" fill="#fff" stroke="#000" stroke-width="1.3"/>
<circle cx="174.3" cy="423.4" r="4.9" fill="#fff" stroke="#000" stroke-width="1.3"/>
<circle cx="227.6" cy="411.1" r="4.9" fill="#fff" stroke="#000" stroke-width="1.3"/>
<circle cx="274.3" cy="385.7" r="4.9" fill="#fff" stroke="#000" stroke-width="1.3"/>
<path d="M80.2 479.9 L84.7 487.1 L75.7 487.1Z" fill="#0000ff" stroke="#000" stroke-width="1.2"/>
<path d="M134.9 430.79999999999995 L139.4 438.0 L130.4 438.0Z" fill="#0000ff" stroke="#000" stroke-width="1.2"/>
<path d="M174.3 398.09999999999997 L178.8 405.3 L169.8 405.3Z" fill="#0000ff" stroke="#000" stroke-width="1.2"/>
<path d="M227.6 369.79999999999995 L232.1 377.0 L223.1 377.0Z" fill="#0000ff" stroke="#000" stroke-width="1.2"/>
<path d="M274.3 345.0 L278.8 352.20000000000005 L269.8 352.20000000000005Z" fill="#0000ff" stroke="#000" stroke-width="1.2"/>
<rect x="76.5" y="474.3" width="7.4" height="7.4" fill="#ff0000" stroke="#000" stroke-width="1.2"/>
<rect x="131.20000000000002" y="390.6" width="7.4" height="7.4" fill="#ff0000" stroke="#000" stroke-width="1.2"/>
<rect x="170.60000000000002" y="343.3" width="7.4" height="7.4" fill="#ff0000" stroke="#000" stroke-width="1.2"/>
<rect x="223.9" y="322.7" width="7.4" height="7.4" fill="#ff0000" stroke="#000" stroke-width="1.2"/>
<rect x="270.6" y="289.2" width="7.4" height="7.4" fill="#ff0000" stroke="#000" stroke-width="1.2"/>
<path d="M80.2 483.20000000000005 L84.7 476.0 L75.7 476.0Z" fill="#ff00ff" stroke="#000" stroke-width="1.2"/>
<path d="M134.9 414.6 L139.4 407.4 L130.4 407.4Z" fill="#ff00ff" stroke="#000" stroke-width="1.2"/>
<path d="M174.3 376.40000000000003 L178.8 369.2 L169.8 369.2Z" fill="#ff00ff" stroke="#000" stroke-width="1.2"/>
<path d="M227.6 365.8 L232.1 358.59999999999997 L223.1 358.59999999999997Z" fill="#ff00ff" stroke="#000" stroke-width="1.2"/>
<path d="M274.3 338.70000000000005 L278.8 331.5 L269.8 331.5Z" fill="#ff00ff" stroke="#000" stroke-width="1.2"/>
<text transform="translate(39.75,27.18) scale(0.9752,1)" font-family="'Liberation Sans', sans-serif" font-size="16.71" font-weight="normal" font-style="normal" fill="#000" stroke="#000" stroke-width="0.25">1.5</text>
<text transform="translate(39.71,96.79) scale(1.0130,1)" font-family="'Liberation Sans', sans-serif" font-size="16.48" font-weight="normal" font-style="normal" fill="#000" stroke="#000" stroke-width="0.25">1.0</text>
<text transform="translate(39.58,166.77) scale(0.9463,1)" font-family="'Liberation Sans', sans-serif" font-size="17.75" font-weight="normal" font-style="normal" fill="#000" stroke="#000" stroke-width="0.25">0.5</text>
<text transform="translate(55.98,246.78) scale(1.1154,1)" font-family="'Liberation Sans', sans-serif" font-size="17.18" font-weight="normal" font-style="normal" fill="#000" stroke="#000" stroke-width="0.25">0</text>
<text transform="translate(123.78,246.78) scale(1.0056,1)" font-family="'Liberation Sans', sans-serif" font-size="16.71" font-weight="normal" font-style="normal" fill="#000" stroke="#000" stroke-width="0.25">5</text>
<text transform="translate(181.92,246.79) scale(1.0053,1)" font-family="'Liberation Sans', sans-serif" font-size="16.48" font-weight="normal" font-style="normal" fill="#000" stroke="#000" stroke-width="0.25">10</text>
<text transform="translate(244.32,246.78) scale(0.9911,1)" font-family="'Liberation Sans', sans-serif" font-size="16.71" font-weight="normal" font-style="normal" fill="#000" stroke="#000" stroke-width="0.25">15</text>
<text transform="translate(306.36,246.79) scale(1.0768,1)" font-family="'Liberation Sans', sans-serif" font-size="16.48" font-weight="normal" font-style="normal" fill="#000" stroke="#000" stroke-width="0.25">20</text>
<text transform="translate(109.59,46.68) scale(1.0222,1)" font-family="'Liberation Sans', sans-serif" font-size="22.23" font-weight="normal" font-style="normal" fill="#000" stroke="#000" stroke-width="0.25">(a)</text>
<text transform="translate(39.08,292.38) scale(0.9773,1)" font-family="'Liberation Sans', sans-serif" font-size="17.18" font-weight="normal" font-style="normal" fill="#000" stroke="#000" stroke-width="0.25">3.0</text>
<text transform="translate(38.90,361.48) scale(0.9849,1)" font-family="'Liberation Sans', sans-serif" font-size="17.18" font-weight="normal" font-style="normal" fill="#000" stroke="#000" stroke-width="0.25">2.0</text>
<text transform="translate(39.75,430.59) scale(0.9891,1)" font-family="'Liberation Sans', sans-serif" font-size="16.48" font-weight="normal" font-style="normal" fill="#000" stroke="#000" stroke-width="0.25">1.0</text>
<text transform="translate(55.58,511.87) scale(1.0800,1)" font-family="'Liberation Sans', sans-serif" font-size="17.75" font-weight="normal" font-style="normal" fill="#000" stroke="#000" stroke-width="0.25">0</text>
<text transform="translate(97.06,511.48) scale(1.0327,1)" font-family="'Liberation Sans', sans-serif" font-size="17.18" font-weight="normal" font-style="normal" fill="#000" stroke="#000" stroke-width="0.25">20</text>
<text transform="translate(139.61,511.48) scale(1.0032,1)" font-family="'Liberation Sans', sans-serif" font-size="17.18" font-weight="normal" font-style="normal" fill="#000" stroke="#000" stroke-width="0.25">40</text>
<text transform="translate(181.06,511.48) scale(1.0327,1)" font-family="'Liberation Sans', sans-serif" font-size="17.18" font-weight="normal" font-style="normal" fill="#000" stroke="#000" stroke-width="0.25">60</text>
<text transform="translate(222.75,511.48) scale(1.0227,1)" font-family="'Liberation Sans', sans-serif" font-size="17.18" font-weight="normal" font-style="normal" fill="#000" stroke="#000" stroke-width="0.25">80</text>
<text transform="translate(260.00,511.48) scale(0.9124,1)" font-family="'Liberation Sans', sans-serif" font-size="17.18" font-weight="normal" font-style="normal" fill="#000" stroke="#000" stroke-width="0.25">100</text>
<text transform="translate(301.75,511.48) scale(0.9124,1)" font-family="'Liberation Sans', sans-serif" font-size="17.18" font-weight="normal" font-style="normal" fill="#000" stroke="#000" stroke-width="0.25">120</text>
<text transform="translate(109.60,307.15) scale(0.9817,1)" font-family="'Liberation Sans', sans-serif" font-size="22.87" font-weight="normal" font-style="normal" fill="#000" stroke="#000" stroke-width="0.25">(b)</text>
<text transform="translate(84.13,268.00) scale(1.0481,1)" font-family="'Liberation Sans', sans-serif" font-size="18.00" font-weight="bold" font-style="normal" fill="#000">Pt particle size,</text>
<text transform="translate(229.05,268.00) scale(1.1204,1)" font-family="'Liberation Sans', sans-serif" font-size="18.00" font-weight="bold" font-style="italic" fill="#000">d</text>
<text transform="translate(241.58,271.60) scale(0.9913,1)" font-family="'Liberation Sans', sans-serif" font-size="12.50" font-weight="bold" font-style="normal" fill="#000">Pt</text>
<line x1="263.2" y1="254.8" x2="258.9" y2="268.4" stroke="#000" stroke-width="2.1"/>
<text transform="translate(266.78,268.00) scale(1.0868,1)" font-family="'Liberation Sans', sans-serif" font-size="18.00" font-weight="bold" font-style="normal" fill="#000">nm</text>
<text transform="translate(130.93,536.50) scale(1.0448,1)" font-family="'Liberation Sans', sans-serif" font-size="18.00" font-weight="bold" font-style="normal" fill="#000">ECA</text>
<line x1="180.4" y1="523.6" x2="175.7" y2="536.7" stroke="#000" stroke-width="2.1"/>
<text transform="translate(185.52,536.50) scale(1.0526,1)" font-family="'Liberation Sans', sans-serif" font-size="18.00" font-weight="bold" font-style="normal" fill="#000">m</text>
<text transform="translate(204.20,527.80) scale(0.8948,1)" font-family="'Liberation Sans', sans-serif" font-size="13.00" font-weight="bold" font-style="normal" fill="#000">2</text>
<text transform="translate(215.59,536.50) scale(1.2000,1)" font-family="'Liberation Sans', sans-serif" font-size="18.00" font-weight="bold" font-style="normal" fill="#000">g</text>
<text transform="translate(228.09,540.70) scale(0.9826,1)" font-family="'Liberation Sans', sans-serif" font-size="12.50" font-weight="bold" font-style="normal" fill="#000">Pt</text>
<text transform="translate(235.94,527.20) scale(0.8150,1)" font-family="'Liberation Sans', sans-serif" font-size="12.50" font-weight="bold" font-style="normal" fill="#000">−1</text>
<text transform="translate(23.70,259.89) rotate(-90) scale(0.8425,1)" font-family="'Liberation Sans', sans-serif" font-size="20.00" font-weight="bold" font-style="italic" fill="#000">MA</text>
<text transform="translate(27.60,231.91) rotate(-90) scale(0.8667,1)" font-family="'Liberation Sans', sans-serif" font-size="12.50" font-weight="bold" font-style="normal" fill="#000">k</text>
<text transform="translate(23.70,221.31) rotate(-90) scale(0.8962,1)" font-family="'Liberation Sans', sans-serif" font-size="20.00" font-weight="bold" font-style="normal" fill="#000">for</text>
<text transform="translate(23.70,191.50) rotate(-90) scale(0.8920,1)" font-family="'Liberation Sans', sans-serif" font-size="20.00" font-weight="bold" font-style="normal" fill="#000">HOR</text>
<text transform="translate(23.70,144.91) rotate(-90) scale(0.9436,1)" font-family="'Liberation Sans', sans-serif" font-size="15.20" font-weight="bold" font-style="normal" fill="#000" stroke="#000" stroke-width="0.4">@0.02 V</text>
<line x1="10.3" y1="79.0" x2="23.7" y2="83.3" stroke="#000" stroke-width="2.1"/>
<text transform="translate(23.70,75.06) rotate(-90) scale(1.0766,1)" font-family="'Liberation Sans', sans-serif" font-size="19.00" font-weight="bold" font-style="normal" fill="#000">A</text>
<text transform="translate(23.70,57.04) rotate(-90) scale(1.1195,1)" font-family="'Liberation Sans', sans-serif" font-size="17.80" font-weight="bold" font-style="normal" fill="#000">mg</text>
<text transform="translate(34.00,28.80) rotate(-90) scale(0.8278,1)" font-family="'Liberation Sans', sans-serif" font-size="13.00" font-weight="bold" font-style="normal" fill="#000" stroke="#000" stroke-width="0.3">Pt</text>
<text transform="translate(18.20,24.49) rotate(-90) scale(0.8822,1)" font-family="'Liberation Sans', sans-serif" font-size="12.50" font-weight="bold" font-style="normal" fill="#000">−1</text>
<text transform="translate(25.80,502.81) rotate(-90) scale(0.9075,1)" font-family="'Liberation Sans', sans-serif" font-size="20.00" font-weight="bold" font-style="italic" fill="#000">MA</text>
<text transform="translate(30.00,475.09) rotate(-90) scale(0.8500,1)" font-family="'Liberation Sans', sans-serif" font-size="12.50" font-weight="bold" font-style="normal" fill="#000">k</text>
<text transform="translate(25.80,463.33) rotate(-90) scale(0.8978,1)" font-family="'Liberation Sans', sans-serif" font-size="20.00" font-weight="bold" font-style="normal" fill="#000">[H</text>
<text transform="translate(30.20,443.67) rotate(-90) scale(1.0832,1)" font-family="'Liberation Sans', sans-serif" font-size="13.00" font-weight="bold" font-style="normal" fill="#000">2</text>
<text transform="translate(25.80,436.17) rotate(-90) scale(0.6111,1)" font-family="'Liberation Sans', sans-serif" font-size="20.00" font-weight="bold" font-style="normal" fill="#000">]</text>
<text transform="translate(19.90,430.46) rotate(-90) scale(0.7836,1)" font-family="'Liberation Sans', sans-serif" font-size="13.00" font-weight="bold" font-style="normal" fill="#000">−1</text>
<line x1="12.3" y1="407.9" x2="25.6" y2="411.7" stroke="#000" stroke-width="2.1"/>
<text transform="translate(25.80,402.56) rotate(-90) scale(0.8561,1)" font-family="'Liberation Sans', sans-serif" font-size="20.00" font-weight="bold" font-style="normal" fill="#000">A</text>
<text transform="translate(25.80,385.39) rotate(-90) scale(0.8824,1)" font-family="'Liberation Sans', sans-serif" font-size="20.00" font-weight="bold" font-style="normal" fill="#000">mg</text>
<text transform="translate(34.00,357.83) rotate(-90) scale(0.8870,1)" font-family="'Liberation Sans', sans-serif" font-size="12.50" font-weight="bold" font-style="normal" fill="#000">Pt</text>
<text transform="translate(19.70,352.65) rotate(-90) scale(0.7692,1)" font-family="'Liberation Sans', sans-serif" font-size="13.00" font-weight="bold" font-style="normal" fill="#000">−1</text>
<text transform="translate(25.80,334.70) rotate(-90) scale(0.9498,1)" font-family="'Liberation Sans', sans-serif" font-size="20.00" font-weight="bold" font-style="normal" fill="#000">(mM)</text>
<text transform="translate(19.70,288.72) rotate(-90) scale(0.7189,1)" font-family="'Liberation Sans', sans-serif" font-size="13.00" font-weight="bold" font-style="normal" fill="#000">−1</text>
<text transform="translate(270.47,76.11) scale(1.0118,1)" font-family="'Liberation Serif', serif" font-size="16.87" font-weight="bold" font-style="normal" fill="#000" stroke="#000" stroke-width="0.35">20</text>
<text transform="translate(287.65,76.60) scale(0.9564,1)" font-family="'Liberation Serif', serif" font-size="17.50" font-weight="bold" font-style="normal" fill="#000" stroke="#000" stroke-width="0.35">ºC</text>
<text transform="translate(270.98,95.33) scale(1.0480,1)" font-family="'Liberation Serif', serif" font-size="15.97" font-weight="bold" font-style="normal" fill="#0000ff" stroke="#0000ff" stroke-width="0.35">40</text>
<text transform="translate(270.64,115.51) scale(1.0137,1)" font-family="'Liberation Serif', serif" font-size="16.87" font-weight="bold" font-style="normal" fill="#008000" stroke="#008000" stroke-width="0.35">60</text>
<text transform="translate(270.64,135.31) scale(1.0137,1)" font-family="'Liberation Serif', serif" font-size="16.87" font-weight="bold" font-style="normal" fill="#ff0000" stroke="#ff0000" stroke-width="0.35">80</text>
<text transform="translate(198.06,309.51) scale(0.9754,1)" font-family="'Liberation Serif', serif" font-size="16.87" font-weight="bold" font-style="normal" fill="#ff0000" stroke="#ff0000" stroke-width="0.35">80</text>
<text transform="translate(214.86,310.00) scale(0.9323,1)" font-family="'Liberation Serif', serif" font-size="17.50" font-weight="bold" font-style="normal" fill="#ff0000" stroke="#ff0000" stroke-width="0.35">ºC</text>
<text transform="translate(197.43,354.93) scale(1.0546,1)" font-family="'Liberation Serif', serif" font-size="16.12" font-weight="bold" font-style="normal" fill="#ff00ff" stroke="#ff00ff" stroke-width="0.35">70</text>
<text transform="translate(198.37,372.75) scale(1.0734,1)" font-family="'Liberation Serif', serif" font-size="14.93" font-weight="bold" font-style="normal" fill="#008000" stroke="#008000" stroke-width="0.35">60</text>
<text transform="translate(198.60,399.62) scale(0.8879,1)" font-family="'Liberation Serif', serif" font-size="16.72" font-weight="bold" font-style="normal" fill="#0000ff" stroke="#0000ff" stroke-width="0.35">40</text>
<text transform="translate(198.07,432.75) scale(1.1138,1)" font-family="'Liberation Serif', serif" font-size="15.22" font-weight="bold" font-style="normal" fill="#000000" stroke="#000000" stroke-width="0.35">20</text>
</svg></body></html>
